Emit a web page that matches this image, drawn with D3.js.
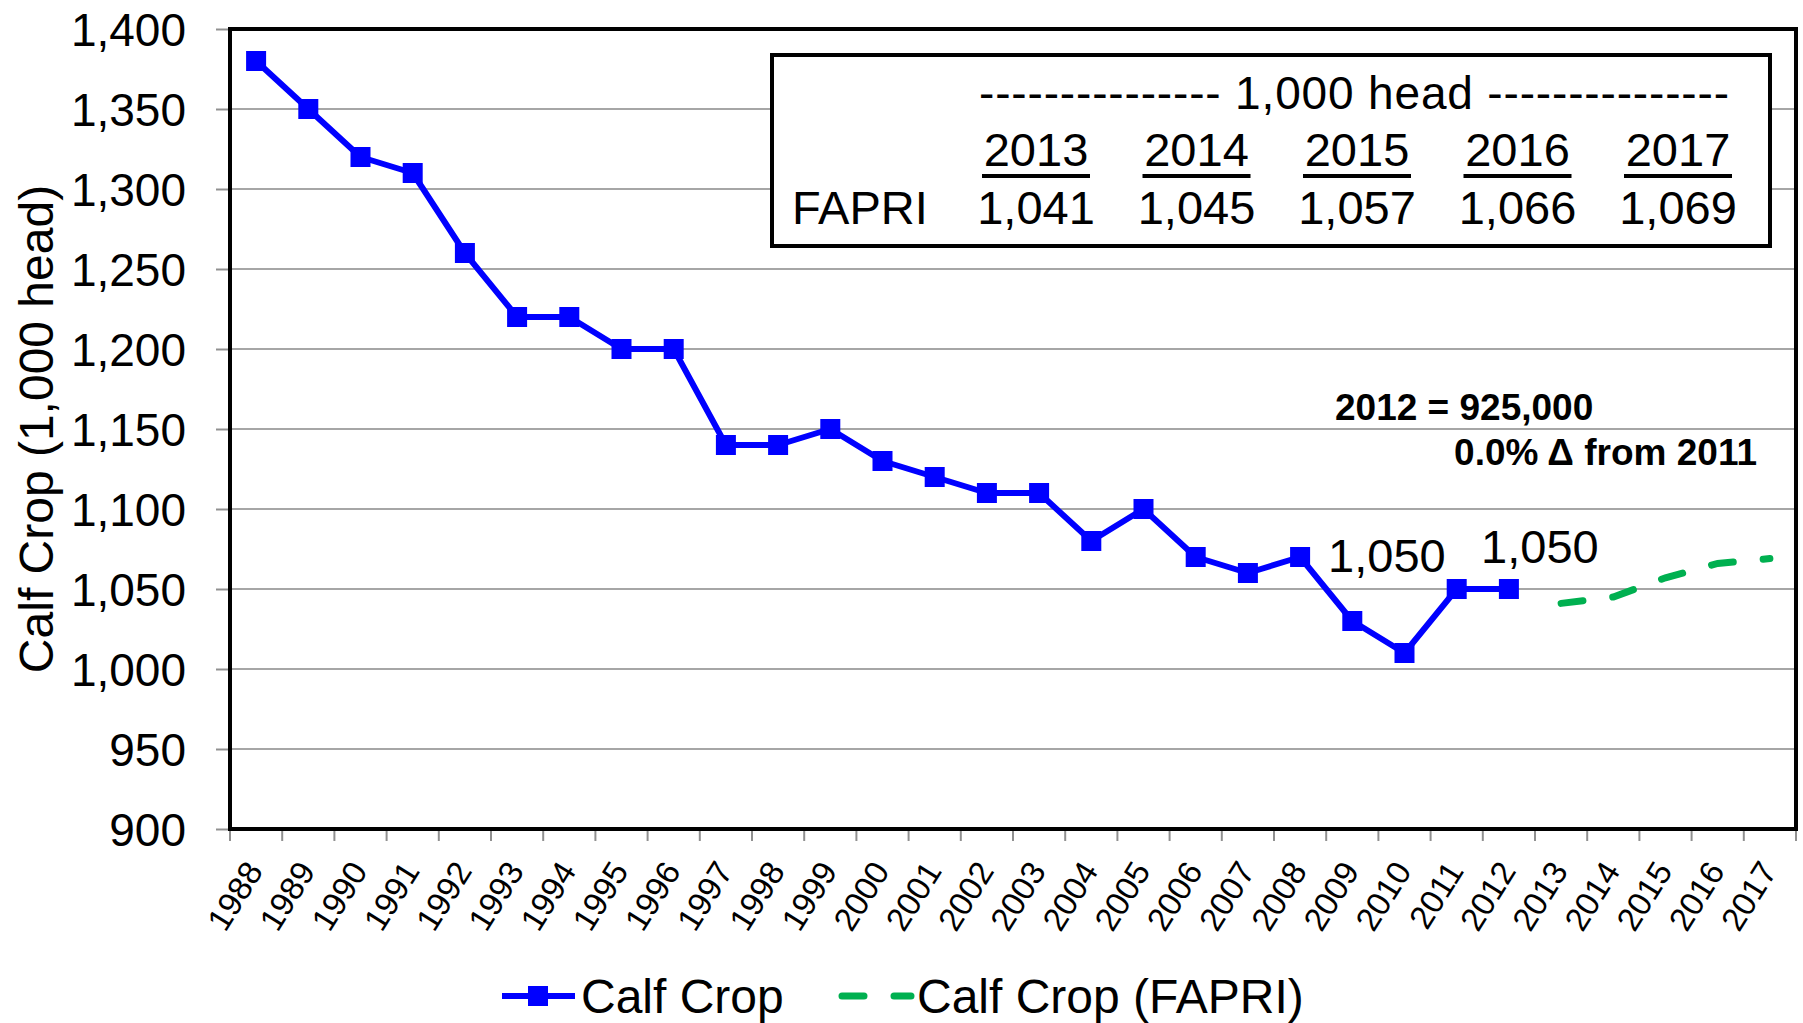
<!DOCTYPE html>
<html>
<head>
  <script src="https://cdn.jsdelivr.net/npm/d3@7"></script>
  <style>
    body { margin: 0; background: #fff; }
    text { font-family: "Liberation Sans", Arial, sans-serif; }
  </style>
</head>
<body>
  <script>

  var width = 1803
  var height = 1023

  var years = d3.range(1988, 2018).map(String);
  var calfYears = d3.range(1988, 2013).map(String);
  var calfCrop = [1380, 1350, 1320, 1310, 1260, 1220, 1220, 1200, 1200, 1140,
                  1140, 1150, 1130, 1120, 1110, 1110, 1080, 1100, 1070, 1060,
                  1070, 1030, 1010, 1050, 1050];
  var fapriYears = ["2013", "2014", "2015", "2016", "2017"];
  var fapri = [1041, 1045, 1057, 1066, 1069];
  var yTicks = [900, 950, 1000, 1050, 1100, 1150, 1200, 1250, 1300, 1350, 1400];

  var margin = {left: 230, right: 7, top: 29, bottom: 194};

  var x = d3.scaleBand()
    .domain(years)
    .range([margin.left, width - margin.right]);

  var y = d3.scaleLinear()
    .domain([900, 1400])
    .range([height - margin.bottom, margin.top]);

  var fmt = d3.format(",");

  var svg = d3.select('body').append("svg")
    .attr("width", width)
    .attr("height", height);

  // gridlines
  svg.append("g")
    .selectAll("line")
    .data(yTicks).enter()
    .append("line")
    .attr("x1", margin.left).attr("x2", width - margin.right)
    .attr("y1", function(d) { return y(d); })
    .attr("y2", function(d) { return y(d); })
    .attr("stroke", "#a6a6a6")
    .attr("stroke-width", 2);

  // y axis
  var yAxis = svg.append("g")
    .attr("transform", "translate(" + margin.left + ",0)")
    .call(d3.axisLeft(y).tickValues(yTicks).tickFormat(fmt).tickSize(14).tickPadding(30));
  yAxis.select(".domain").remove();
  yAxis.selectAll("line").attr("stroke", "#909090").attr("stroke-width", 2);
  yAxis.selectAll("text")
    .attr("font-size", 46)
    .attr("fill", "#000")
    .attr("dy", "0.36em");

  // x axis, ticks on band edges
  var xg = svg.append("g")
    .attr("transform", "translate(0," + y(900) + ")");
  xg.selectAll("line")
    .data(years.concat(["end"])).enter()
    .append("line")
    .attr("x1", function(d, i) { return margin.left + i * x.step(); })
    .attr("x2", function(d, i) { return margin.left + i * x.step(); })
    .attr("y1", 0).attr("y2", 12)
    .attr("stroke", "#909090")
    .attr("stroke-width", 2);
  xg.selectAll("text")
    .data(years).enter()
    .append("text")
    .attr("transform", function(d) {
      return "translate(" + (x(d) + x.bandwidth() / 2 + 8) + ",42) rotate(-58)";
    })
    .attr("text-anchor", "end")
    .attr("font-size", 33)
    .text(function(d) { return d; });

  // frame
  svg.append("rect")
    .attr("x", margin.left).attr("y", margin.top)
    .attr("width", width - margin.left - margin.right)
    .attr("height", y(900) - margin.top)
    .attr("fill", "none")
    .attr("stroke", "#000")
    .attr("stroke-width", 4);

  // y title
  svg.append("text")
    .attr("transform", "translate(53," + ((margin.top + y(900)) / 2) + ") rotate(-90)")
    .attr("text-anchor", "middle")
    .attr("font-size", 48)
    .text("Calf Crop (1,000 head)");

  var cx = function(d) { return x(d) + x.bandwidth() / 2; };

  // FAPRI dashed
  var fapriData = fapriYears.map(function(d, i) { return {year: d, v: fapri[i]}; });
  svg.append("path")
    .datum(fapriData)
    .attr("fill", "none")
    .attr("stroke", "#00b050")
    .attr("stroke-width", 7)
    .attr("stroke-linecap", "round")
    .attr("stroke-dasharray", "22,30")
    .attr("d", d3.line()
      .x(function(d) { return cx(d.year); })
      .y(function(d) { return y(d.v); }));

  // calf crop
  var calfData = calfYears.map(function(d, i) { return {year: d, v: calfCrop[i]}; });
  svg.append("path")
    .datum(calfData)
    .attr("fill", "none")
    .attr("stroke", "#0000ff")
    .attr("stroke-width", 6)
    .attr("stroke-linejoin", "round")
    .attr("d", d3.line()
      .x(function(d) { return cx(d.year); })
      .y(function(d) { return y(d.v); }));

  svg.selectAll(".marker")
    .data(calfData).enter()
    .append("rect")
    .attr("class", "marker")
    .attr("x", function(d) { return cx(d.year) - 10; })
    .attr("y", function(d) { return y(d.v) - 10; })
    .attr("width", 20).attr("height", 20)
    .attr("fill", "#0000ff");

  // data labels for 2011 & 2012
  svg.append("text")
    .attr("x", cx("2011") - 11).attr("y", y(1050) - 17)
    .attr("text-anchor", "end")
    .attr("font-size", 47)
    .text(fmt(calfCrop[23]));
  svg.append("text")
    .attr("x", cx("2012") + 31).attr("y", y(1050) - 26)
    .attr("text-anchor", "middle")
    .attr("font-size", 47)
    .text(fmt(calfCrop[24]));

  // annotation
  svg.append("text")
    .attr("x", 1335).attr("y", 420)
    .attr("font-size", 37).attr("font-weight", "bold")
    .text("2012 = 925,000");
  svg.append("text")
    .attr("x", 1757).attr("y", 465)
    .attr("text-anchor", "end")
    .attr("font-size", 37).attr("font-weight", "bold")
    .text("0.0% \u0394 from 2011");

  // FAPRI table box
  var tb = svg.append("g");
  tb.append("rect")
    .attr("x", 772).attr("y", 55)
    .attr("width", 998).attr("height", 191)
    .attr("fill", "#fff")
    .attr("stroke", "#000")
    .attr("stroke-width", 4);
  tb.append("text")
    .attr("x", 979).attr("y", 109)
    .attr("font-size", 46)
    .attr("textLength", 750)
    .attr("lengthAdjust", "spacing")
    .text("--------------- 1,000 head ---------------");
  tb.append("text")
    .attr("x", 792).attr("y", 224)
    .attr("font-size", 47)
    .text("FAPRI");
  var colX = d3.scalePoint().domain(fapriYears).range([1036, 1678]);
  tb.selectAll(".yr")
    .data(fapriYears).enter()
    .append("text")
    .attr("class", "yr")
    .attr("x", function(d) { return colX(d); })
    .attr("y", 166)
    .attr("text-anchor", "middle")
    .attr("font-size", 47)
    .text(function(d) { return d; });
  tb.selectAll(".ul")
    .data(fapriYears).enter()
    .append("line")
    .attr("x1", function(d) { return colX(d) - 54; })
    .attr("x2", function(d) { return colX(d) + 54; })
    .attr("y1", 176).attr("y2", 176)
    .attr("stroke", "#000")
    .attr("stroke-width", 4);
  tb.selectAll(".val")
    .data(fapri).enter()
    .append("text")
    .attr("class", "val")
    .attr("x", function(d, i) { return colX(fapriYears[i]); })
    .attr("y", 224)
    .attr("text-anchor", "middle")
    .attr("font-size", 47)
    .text(function(d) { return fmt(d); });

  // legend
  var lg = svg.append("g").attr("transform", "translate(0,996)");
  lg.append("line")
    .attr("x1", 502).attr("x2", 575)
    .attr("stroke", "#0000ff").attr("stroke-width", 6);
  lg.append("rect")
    .attr("x", 528).attr("y", -10).attr("width", 20).attr("height", 20)
    .attr("fill", "#0000ff");
  lg.append("text")
    .attr("x", 581).attr("dy", "0.36em")
    .attr("font-size", 48)
    .text("Calf Crop");
  lg.append("line")
    .attr("x1", 842).attr("x2", 911)
    .attr("stroke", "#00b050").attr("stroke-width", 7)
    .attr("stroke-linecap", "round")
    .attr("stroke-dasharray", "22,30");
  lg.append("text")
    .attr("x", 917).attr("dy", "0.36em")
    .attr("font-size", 48)
    .text("Calf Crop (FAPRI)");

  </script>
</body>
</html>
